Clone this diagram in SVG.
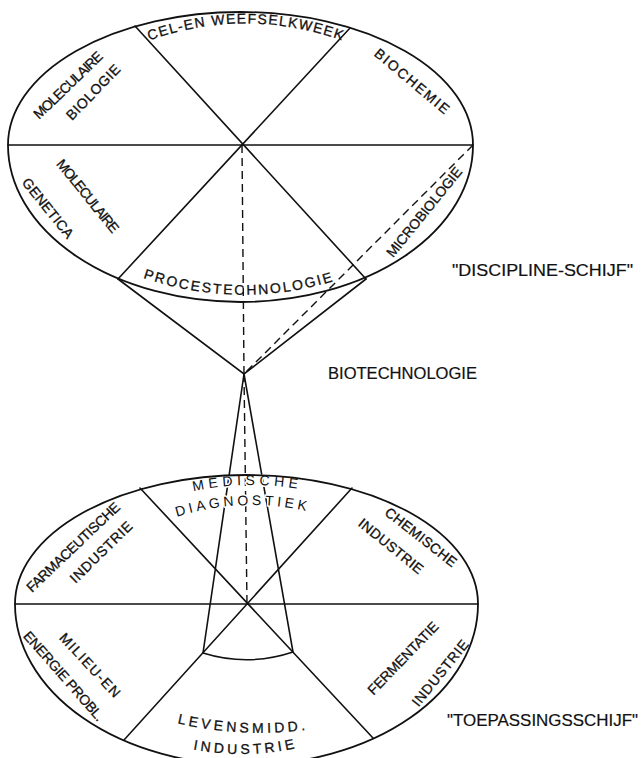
<svg xmlns="http://www.w3.org/2000/svg" width="643" height="758" viewBox="0 0 643 758">
  <style>
    .ln { fill: none; stroke: #111; stroke-width: 1.6; stroke-linecap: round; }
    .ell { fill: none; stroke: #111; stroke-width: 1.8; }
    .dash { fill: none; stroke: #111; stroke-width: 1.4; stroke-dasharray: 8 5; }
    .t { font-family: "Liberation Sans", "DejaVu Sans", Arial, sans-serif; fill: #111; stroke: #111; stroke-width: 0.3; font-size: 14px; }
    .tc { text-anchor: middle; }
    .halo { stroke: #fff; stroke-width: 3; paint-order: stroke; stroke-linejoin: round; }
    .big { font-size: 17px; stroke-width: 0.2; }
  </style>
  <defs>
    <path id="pCel" d="M 148,41 Q 245,6 344,41"/>
    <path id="pProc" d="M 132,274 Q 240,314 346,277"/>
    <path id="pMed" d="M 190,492 Q 247,479 305,490"/>
    <path id="pDiag" d="M 176,517 Q 243,496 310,512"/>
    <path id="pLev" d="M 172,722 Q 240,739 314,729"/>
    <path id="pInd" d="M 186,748 Q 246,761 305,746"/>
  </defs>
  <rect x="0" y="0" width="643" height="758" fill="#ffffff"/>

  <g id="connectors">
    <line class="ln" x1="8" y1="145" x2="473" y2="145"/>
    <line class="ln" x1="135" y1="26" x2="366" y2="279"/>
    <line class="ln" x1="350" y1="28" x2="118" y2="279"/>
    <polyline class="ln" points="118,279 244,374 366,279"/>
    <line class="dash" x1="242" y1="145" x2="244" y2="374"/>
    <line class="dash" x1="473" y1="145" x2="244" y2="374"/>
    <line class="ln" x1="15" y1="604" x2="478" y2="604"/>
    <line class="ln" x1="140" y1="488" x2="373" y2="738"/>
    <line class="ln" x1="352" y1="488" x2="124" y2="740"/>
    <line class="ln" x1="244" y1="374" x2="203" y2="653"/>
    <line class="ln" x1="244" y1="374" x2="293" y2="652"/>
    <path class="ln" d="M 203,653 Q 248,667 293,652"/>
    <line class="dash" x1="244" y1="374" x2="247" y2="604"/>
  </g>

  <g id="discipline-schijf">
    <path class="ell" d="M 8,145 A 232.5,133 0 0 1 473,145 A 232.5,157 0 0 1 8,145 Z"/>
  </g>

  <g id="cel-en-weefselkweek">
    <text class="t" font-size="13.5" letter-spacing="1.3"><textPath href="#pCel" startOffset="50%" text-anchor="middle">CEL-EN WEEFSELKWEEK</textPath></text>
  </g>
  <g id="biochemie">
    <text class="t tc" transform="translate(412,81) rotate(40)" x="0" y="5" textLength="93" lengthAdjust="spacing">BIOCHEMIE</text>
  </g>
  <g id="moleculaire-biologie">
    <text class="t tc" transform="translate(68,85) rotate(-44)" x="0" y="5" textLength="90" lengthAdjust="spacing">MOLECULAIRE</text>
    <text class="t tc" transform="translate(93,92) rotate(-46)" x="0" y="5" textLength="71" lengthAdjust="spacing">BIOLOGIE</text>
  </g>
  <g id="moleculaire-genetica">
    <text class="t tc" transform="translate(88,196) rotate(51)" x="0" y="5" textLength="90" lengthAdjust="spacing">MOLECULAIRE</text>
    <text class="t tc" transform="translate(48,208) rotate(51)" x="0" y="5" textLength="73" lengthAdjust="spacing">GENETICA</text>
  </g>
  <g id="microbiologie">
    <text class="t tc" transform="translate(424,212) rotate(-51)" x="0" y="5" textLength="111" lengthAdjust="spacing">MICROBIOLOGIE</text>
  </g>
  <g id="procestechnologie">
    <text class="t" font-size="15" letter-spacing="2"><textPath href="#pProc" startOffset="50%" text-anchor="middle">PROCESTECHNOLOGIE</textPath></text>
  </g>

  <g id="biotechnologie">
    <text class="t big" x="328" y="379" textLength="149" lengthAdjust="spacingAndGlyphs">BIOTECHNOLOGIE</text>
  </g>
  <g id="label-discipline">
    <text class="t big" x="452" y="276" textLength="181" lengthAdjust="spacingAndGlyphs">"DISCIPLINE-SCHIJF"</text>
  </g>
  <g id="label-toepassing">
    <text class="t big" x="447" y="726" textLength="191" lengthAdjust="spacingAndGlyphs">"TOEPASSINGSSCHIJF"</text>
  </g>

  <g id="medische-diagnostiek">
    <text class="t halo" font-size="11.5" letter-spacing="4.4"><textPath href="#pMed" startOffset="50%" text-anchor="middle">MEDISCHE</textPath></text>
    <text class="t halo" font-size="12" letter-spacing="3.5"><textPath href="#pDiag" startOffset="50%" text-anchor="middle">DIAGNOSTIEK</textPath></text>
  </g>
  <g id="toepassingsschijf">
    <path class="ell" d="M 15,604 A 231.5,129 0 0 1 478,604 A 231.5,161 0 0 1 15,604 Z"/>
  </g>
  <g id="farmaceutische-industrie">
    <text class="t tc" transform="translate(73,547) rotate(-43.6)" x="0" y="5" textLength="123" lengthAdjust="spacing">FARMACEUTISCHE</text>
    <text class="t tc" transform="translate(101,552) rotate(-44.5)" x="0" y="5" textLength="81" lengthAdjust="spacing">INDUSTRIE</text>
  </g>
  <g id="chemische-industrie">
    <text class="t tc" transform="translate(421,537) rotate(38)" x="0" y="5" textLength="87" lengthAdjust="spacing">CHEMISCHE</text>
    <text class="t tc" transform="translate(391,546) rotate(39)" x="0" y="5" textLength="79" lengthAdjust="spacing">INDUSTRIE</text>
  </g>
  <g id="milieu-en-energie">
    <text class="t tc" transform="translate(90,665) rotate(47)" x="0" y="5" textLength="82" lengthAdjust="spacing">MILIEU-EN</text>
    <text class="t tc" transform="translate(64,676) rotate(48.7)" x="0" y="5" textLength="114" lengthAdjust="spacing">ENERGIE PROBL.</text>
  </g>
  <g id="fermentatie-industrie">
    <text class="t tc" transform="translate(403,658) rotate(-46)" x="0" y="5" textLength="95" lengthAdjust="spacing">FERMENTATIE</text>
    <text class="t tc" transform="translate(440,673) rotate(-51)" x="0" y="5" textLength="81" lengthAdjust="spacing">INDUSTRIE</text>
  </g>
  <g id="levensmidd-industrie">
    <text class="t" font-size="13" letter-spacing="3.4"><textPath href="#pLev" startOffset="50%" text-anchor="middle">LEVENSMIDD.</textPath></text>
    <text class="t" font-size="13" letter-spacing="3.4"><textPath href="#pInd" startOffset="50%" text-anchor="middle">INDUSTRIE</textPath></text>
  </g>
</svg>
